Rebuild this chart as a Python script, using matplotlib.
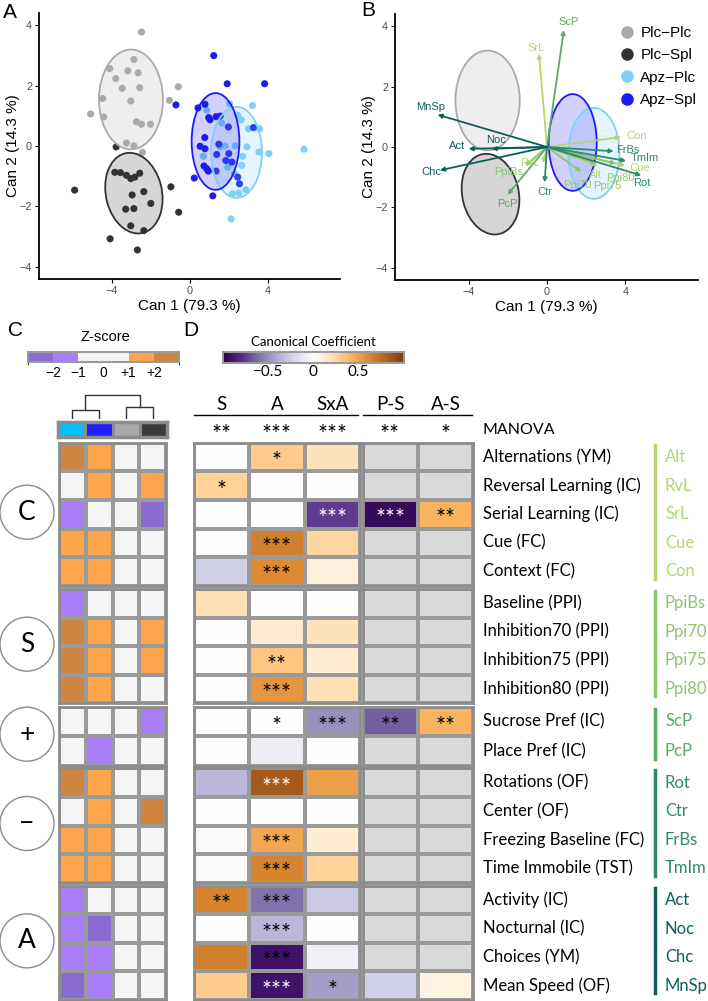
import numpy as np
import matplotlib.pyplot as plt
import matplotlib.transforms as mtransforms
from matplotlib.patches import Ellipse
from matplotlib.lines import Line2D
from matplotlib.colors import ListedColormap, BoundaryNorm, LinearSegmentedColormap, Normalize
from matplotlib.cm import ScalarMappable

### DATA ###
group_names = ['Plc−Plc', 'Plc−Spl', 'Apz−Plc', 'Apz−Spl']
group_colors = ['#AAAAAA', '#333333', '#7FD0F8', '#1C1CF0']

# canonical scores (panel A)
plcplc_x = [-2.49, -2.88, -4.12, -3.19, -2.66, -3.81, -3.48, -2.58, -0.60, -4.48,
            -3.04, -1.06, -5.10, -4.43, -2.75, -2.49, -2.03, -3.26, -2.88, -2.44]
plcplc_y = [3.77, 2.86, 2.56, 2.49, 2.42, 2.23, 1.91, 1.93, 1.96, 1.57,
            1.49, 1.51, 1.06, 0.96, 0.80, 0.72, 0.72, 0.10, 0.01, -0.21]
plcspl_x = [-3.79, -3.86, -3.57, -3.26, -3.04, -2.83, -2.58, -2.97, -2.37, -3.30,
            -2.88, -2.01, -0.98, -0.58, -5.92, -3.04, -2.37, -4.10, -2.70]
plcspl_y = [-0.03, -0.87, -0.88, -0.97, -1.08, -1.03, -0.90, -1.62, -1.51, -2.09,
            -2.07, -1.90, -1.35, -2.19, -1.46, -2.64, -2.80, -3.07, -3.44]
apzplc_x = [0.86, 2.03, 3.21, 2.45, 2.63, 3.00, 3.57, 1.63, 2.32, 1.80, 3.54, 4.05,
            5.85, 2.71, 2.66, 1.94, 0.69, 2.28, 2.18, 2.51, 2.87, 2.11, 2.92, 1.55]
apzplc_y = [1.18, 1.40, 1.34, 1.02, 0.87, 0.57, 0.57, 0.76, 0.00, 0.00, -0.20, -0.25,
            -0.11, -0.34, -0.64, -0.70, -0.34, -0.92, -1.58, -1.56, -1.45, -2.41, -0.03, -0.03]
apzspl_x = [1.22, 1.91, 3.83, -0.72, 0.41, 0.77, 0.96, 1.03, 1.34, 1.55, 1.97, 3.26, 0.76, 0.52,
            0.77, 1.48, 1.37, 1.99, 0.72, 0.94, 1.34, 1.84, 2.15, 2.45, 2.54, 0.22, 1.17, 0.86]
apzspl_y = [2.99, 2.06, 2.06, 1.36, 1.26, 1.38, 0.94, 0.87, 0.97, 0.99, 0.63, 0.61, 0.28, -0.01,
            -0.09, 0.06, -0.28, -0.25, -0.66, -0.83, -0.83, -0.48, -0.53, -1.03, -1.25, -1.06, -1.65, -0.75]

# 68% ellipses: centre, width, height, angle
ell_cx = [-3.03, -2.88, 2.39, 1.31]
ell_cy = [1.54, -1.56, -0.21, 0.15]
ell_w = [3.28, 3.05, 2.61, 2.45]
ell_h = [3.30, 2.55, 3.01, 3.20]
ell_ang = [0, -28, 0, 0]

# variables (rows of D, arrows of B)
var_abbr = ['Alt', 'RvL', 'SrL', 'Cue', 'Con', 'PpiBs', 'Ppi70', 'Ppi75', 'Ppi80',
            'ScP', 'PcP', 'Rot', 'Ctr', 'FrBs', 'TmIm', 'Act', 'Noc', 'Chc', 'MnSp']
var_names = ['Alternations (YM)', 'Reversal Learning (IC)', 'Serial Learning (IC)', 'Cue (FC)',
             'Context (FC)', 'Baseline (PPI)', 'Inhibition70 (PPI)', 'Inhibition75 (PPI)',
             'Inhibition80 (PPI)', 'Sucrose Pref (IC)', 'Place Pref (IC)', 'Rotations (OF)',
             'Center (OF)', 'Freezing Baseline (FC)', 'Time Immobile (TST)', 'Activity (IC)',
             'Nocturnal (IC)', 'Choices (YM)', 'Mean Speed (OF)']
block_labels = ['C', 'S', '+', '−', 'A']
block_sizes = [5, 4, 2, 4, 4]
block_colors = ['#B3D66E', '#8EC56F', '#5DA866', '#2D8A68', '#0E5F5A']

# structure coefficients (panel B)
coef_x = [2.58, -0.21, -0.41, 3.98, 3.78, -1.12, 1.75, 2.54, 3.52, 0.86,
          -2.01, 4.81, -0.12, 3.40, 4.03, -4.00, -2.83, -5.46, -5.58]
coef_y = [-0.61, -0.53, 3.09, -0.62, 0.33, -0.62, -0.82, -0.55, -0.55, 3.87,
          -1.58, -0.94, -1.17, -0.14, -0.46, -0.06, -0.06, -0.77, 1.07]
lab_x = [2.45, -0.86, -0.57, 4.72, 4.55, -1.97, 1.55, 3.09, 3.74, 1.12,
         -2.01, 4.81, -0.12, 4.12, 5.00, -4.60, -2.58, -5.92, -5.92]
lab_y = [-0.94, -0.53, 3.28, -0.68, 0.35, -0.83, -1.25, -1.30, -1.03, 4.13,
         -1.88, -1.19, -1.49, -0.09, -0.36, 0.02, 0.24, -0.83, 1.33]

# z-scores (panel C), columns: Apz-Plc, Apz-Spl, Plc-Plc, Plc-Spl
zcol_colors = ['#00BFFF', '#1F1FFF', '#AAAAAA', '#3A3A3A']
zscore = np.array([
    [2.3, 1.5, 0.0, 0.0],
    [0.0, 1.5, 0.0, 1.5],
    [-1.5, 0.0, 0.0, -2.3],
    [1.5, 1.5, 0.0, 0.0],
    [1.5, 1.5, 0.0, 0.0],
    [-1.5, 0.0, 0.0, 0.0],
    [2.3, 1.5, 0.0, 1.5],
    [2.3, 1.5, 0.0, 1.5],
    [2.3, 1.5, 0.0, 0.0],
    [0.0, 0.0, 0.0, -1.5],
    [0.0, -1.5, 0.0, 0.0],
    [2.3, 1.5, 0.0, 0.0],
    [0.0, 1.5, 0.0, 2.3],
    [1.5, 1.5, 0.0, 0.0],
    [1.5, 1.5, 0.0, 0.0],
    [-1.5, 0.0, 0.0, 0.0],
    [-1.5, -2.3, 0.0, 0.0],
    [-1.5, -1.5, 0.0, 0.0],
    [-2.3, -1.5, 0.0, 0.0]])

# canonical coefficients (panel D), columns S, A, SxA, P-S, A-S
coef_cols = ['S', 'A', 'SxA', 'P-S', 'A-S']
manova_stars = ['**', '***', '***', '**', '*']
nan = np.nan
canon = np.array([
    [0.00, 0.30, 0.18, nan, nan],
    [0.27, 0.00, 0.00, nan, nan],
    [0.00, 0.00, -0.75, -0.95, 0.42],
    [0.00, 0.65, 0.25, nan, nan],
    [-0.25, 0.60, 0.10, nan, nan],
    [0.20, 0.00, 0.00, nan, nan],
    [0.00, 0.13, 0.18, nan, nan],
    [0.00, 0.33, 0.12, nan, nan],
    [0.00, 0.55, 0.20, nan, nan],
    [0.00, 0.00, -0.50, -0.65, 0.42],
    [0.00, -0.10, 0.00, nan, nan],
    [-0.35, 0.85, 0.50, nan, nan],
    [0.00, 0.00, 0.00, nan, nan],
    [-0.03, 0.47, 0.12, nan, nan],
    [-0.03, 0.63, 0.27, nan, nan],
    [0.63, -0.60, -0.27, nan, nan],
    [0.00, -0.35, 0.00, nan, nan],
    [0.65, -0.90, -0.08, nan, nan],
    [0.30, -0.90, -0.45, -0.25, 0.08]])
signif = [
    ['', '*', '', '', ''],
    ['*', '', '', '', ''],
    ['', '', '***', '***', '**'],
    ['', '***', '', '', ''],
    ['', '***', '', '', ''],
    ['', '', '', '', ''],
    ['', '', '', '', ''],
    ['', '**', '', '', ''],
    ['', '***', '', '', ''],
    ['', '*', '***', '**', '**'],
    ['', '', '', '', ''],
    ['', '***', '', '', ''],
    ['', '', '', '', ''],
    ['', '***', '', '', ''],
    ['', '***', '', '', ''],
    ['**', '***', '', '', ''],
    ['', '***', '', '', ''],
    ['', '***', '', '', ''],
    ['', '***', '*', '', '']]
white_stars = [(2, 2), (2, 3), (11, 1), (18, 1)]

### FIGURE ###
W, H = 708, 1001
fig = plt.figure(figsize=(W / 100, H / 100), dpi=100)
FA = 'Liberation Sans'
FD = 'Lato'


def add_ax(x0, y0, x1, y1):
    # axes from pixel box (top-left origin)
    return fig.add_axes([x0 / W, 1 - y1 / H, (x1 - x0) / W, (y1 - y0) / H])


def style_scatter_axes(ax):
    ax.set_xlim(-7.75, 7.7)
    ax.set_ylim(-4.4, 4.4)
    ax.set_xticks([-4, 0, 4])
    ax.set_yticks([-4, -2, 0, 2, 4])
    for s in ['top', 'right']:
        ax.spines[s].set_visible(False)
    for s in ['left', 'bottom']:
        ax.spines[s].set_linewidth(1.3)
    ax.tick_params(labelsize=7.8, labelcolor='#4D4D4D', length=3, width=0.8, pad=2)
    for t in ax.get_xticklabels() + ax.get_yticklabels():
        t.set_fontfamily(FA)
    ax.set_xlabel('Can 1 (79.3 %)', fontsize=11, family=FA, labelpad=2)
    ax.set_ylabel('Can 2 (14.3 %)', fontsize=11, family=FA, labelpad=0)


def draw_ellipses(ax):
    for i in range(4):
        ax.add_patch(Ellipse((ell_cx[i], ell_cy[i]), ell_w[i], ell_h[i], angle=ell_ang[i],
                             facecolor=group_colors[i], alpha=0.2, edgecolor='none', zorder=3))
        ax.add_patch(Ellipse((ell_cx[i], ell_cy[i]), ell_w[i], ell_h[i], angle=ell_ang[i],
                             facecolor='none', edgecolor=group_colors[i], lw=1.3, zorder=4))


### Panel A
axA = add_ax(39, 13, 340, 279)
pts = [(plcplc_x, plcplc_y), (plcspl_x, plcspl_y), (apzplc_x, apzplc_y), (apzspl_x, apzspl_y)]
for i, (px, py) in enumerate(pts):
    axA.scatter(px, py, s=26, color=group_colors[i], edgecolors='none', zorder=2)
draw_ellipses(axA)
style_scatter_axes(axA)

### Panel B
axB = add_ax(395, 14, 698, 280)
draw_ellipses(axB)
var_group = np.repeat(np.arange(5), block_sizes)
for k in range(len(var_abbr)):
    c = block_colors[var_group[k]]
    axB.annotate('', xy=(coef_x[k], coef_y[k]), xytext=(0, 0),
                 arrowprops=dict(arrowstyle='-|>', color=c, lw=1.3, mutation_scale=6,
                                 shrinkA=0, shrinkB=0), zorder=5)
    axB.text(lab_x[k], lab_y[k], var_abbr[k], color=c, fontsize=8, family=FA,
             ha='center', va='center', zorder=6)
style_scatter_axes(axB)
handles = [Line2D([], [], ls='none', marker='o', ms=8, color=c) for c in group_colors]
axB.legend(handles, group_names, loc='upper left', bbox_to_anchor=(619 / W, 1 - 26 / H),
           bbox_transform=fig.transFigure, frameon=False, prop={'family': FA, 'size': 11},
           handlelength=1.0, handletextpad=0.4, labelspacing=0.55, borderpad=0, borderaxespad=0)

### panel letters
for lx, ly, L in [(3, 12, 'A'), (361, 11, 'B'), (8, 331, 'C'), (183, 331, 'D')]:
    fig.text(lx / W, 1 - ly / H, L, fontsize=15, family=FA, va='center', ha='left')

### Panel C: colour key
z_cmap = ListedColormap(['#8A6BD1', '#A77DFA', '#F5F5F5', '#FFA64D', '#CD853F'])
z_norm = BoundaryNorm([-3, -2, -1, 1, 2, 3], 5)
fig.text(105 / W, 1 - 337 / H, 'Z-score', fontsize=10.5, family=FA, ha='center', va='center')
caxC = add_ax(28, 352, 179, 362)
cbC = fig.colorbar(ScalarMappable(norm=z_norm, cmap=z_cmap), cax=caxC, orientation='horizontal',
                   spacing='proportional', ticks=[-2, -1, 0, 1, 2])
cbC.set_ticklabels(['−2', '−1', '0', '+1', '+2'])
cbC.outline.set_edgecolor('#9A9A9A')
cbC.outline.set_linewidth(1.5)
caxC.tick_params(length=0, labelsize=10, pad=3)
for t in caxC.get_xticklabels():
    t.set_fontfamily(FA)

# dendrogram over the four groups
axDen = add_ax(58, 392, 167, 419)
den_h = [0.35, 0.43, 0.90]
axDen.plot([0.5, 0.5, 1.5, 1.5], [0, den_h[0], den_h[0], 0], color='#333333', lw=1)
axDen.plot([2.5, 2.5, 3.5, 3.5], [0, den_h[1], den_h[1], 0], color='#333333', lw=1)
axDen.plot([1.0, 1.0, 3.0, 3.0], [den_h[0], den_h[2], den_h[2], den_h[1]], color='#333333', lw=1)
axDen.set_xlim(0, 4)
axDen.set_ylim(0, 1)
axDen.axis('off')

axHead = add_ax(58, 422, 167, 437)
axHead.pcolormesh([[0, 1, 2, 3]], cmap=ListedColormap(zcol_colors), vmin=-0.5, vmax=3.5,
                  edgecolors='#8C8C8C', linewidth=2)
axHead.set_xticks([])
axHead.set_yticks([])
for s in axHead.spines.values():
    s.set_color('#8C8C8C')
    s.set_linewidth(2.5)

### Panel D: colour key
d_cmap = LinearSegmentedColormap.from_list('puor', ['#2d004b', '#542788', '#8073ac', '#b2abd2', '#d8daeb',
                                                    '#ffffff', '#fee0b6', '#fdb863', '#dd8a33',
                                                    '#b2651f', '#7f3b08'])
d_cmap.set_bad('#D9D9D9')
d_norm = Normalize(-1, 1)
fig.text(313 / W, 1 - 342 / H, 'Canonical Coefficient', fontsize=9.5, family=FD, ha='center', va='center')
caxD = add_ax(222.7, 352.3, 404, 362.7)
cbD = fig.colorbar(ScalarMappable(norm=d_norm, cmap=d_cmap), cax=caxD, orientation='horizontal',
                   ticks=[-0.5, 0, 0.5])
cbD.set_ticklabels(['−0.5', '0', '0.5'])
cbD.outline.set_edgecolor('#9A9A9A')
cbD.outline.set_linewidth(1.5)
caxD.tick_params(length=0, labelsize=11, pad=2)
for t in caxD.get_xticklabels():
    t.set_fontfamily(FD)

# column header, underlines and MANOVA stars
col_x = [221.7, 277, 332.3, 390, 445.7]
for j in range(5):
    fig.text(col_x[j] / W, 1 - 405 / H, coef_cols[j], fontsize=13.5, family=FD, ha='center', va='center')
    fig.text(col_x[j] / W, 1 - 434 / H, manova_stars[j], fontsize=17, family=FD, ha='center', va='center')
fig.add_artist(Line2D([194 / W, 358 / W], [1 - 415 / H] * 2, color='black', lw=1))
fig.add_artist(Line2D([362.7 / W, 471.7 / W], [1 - 415 / H] * 2, color='black', lw=1))
fig.text(482 / W, 1 - 430 / H, 'MANOVA', fontsize=11.5, family=FD, ha='left', va='center')

### heatmap blocks
block_top = [442.7, 589, 706.7, 768.3, 885.7]
block_bot = [585.7, 703.3, 765.7, 882.7, 1000]
white_set = set(white_stars)
r0 = 0
for b in range(5):
    n = block_sizes[b]
    top, bot = block_top[b], block_bot[b]
    rows = slice(r0, r0 + n)

    # panel C block
    axc = add_ax(59.3, top, 166, bot)
    axc.pcolormesh(zscore[rows], cmap=z_cmap, norm=z_norm, edgecolors='#9A9A9A', linewidth=1.5)

    # panel D blocks (effects, contrasts)
    axl = add_ax(194, top, 360, bot)
    axl.pcolormesh(np.ma.masked_invalid(canon[rows, :3]), cmap=d_cmap, norm=d_norm,
                   edgecolors='#9A9A9A', linewidth=1.5)
    axr = add_ax(362.7, top, 473.3, bot)
    axr.pcolormesh(np.ma.masked_invalid(canon[rows, 3:]), cmap=d_cmap, norm=d_norm,
                   edgecolors='#9A9A9A', linewidth=1.5)

    for ax in (axc, axl, axr):
        ax.set_ylim(n, 0)
        ax.set_xticks([])
        ax.set_yticks([])
        for s in ax.spines.values():
            s.set_color('#8C8C8C')
            s.set_linewidth(2)

    for i in range(n):
        r = r0 + i
        for j in range(5):
            if signif[r][j]:
                ax = axl if j < 3 else axr
                jj = j if j < 3 else j - 3
                col = 'white' if (r, j) in white_set else 'black'
                ax.text(jj + 0.5, i + 0.66, signif[r][j], ha='center', va='center',
                        fontsize=17, family=FD, color=col)
        trans = mtransforms.blended_transform_factory(fig.transFigure, axr.transData)
        axr.text(483 / W, i + 0.5, var_names[r], transform=trans, fontsize=12, family=FD,
                 ha='left', va='center')
        axr.text(665 / W, i + 0.5, var_abbr[r], transform=trans, fontsize=12, family=FD,
                 ha='left', va='center', color=block_colors[b])

    # group bar and circled group label
    fig.add_artist(Line2D([655 / W] * 2, [1 - (top + 2) / H, 1 - (bot - 7) / H],
                          color=block_colors[b], lw=2.5))
    fig.text(27 / W, 1 - ((top + bot) / 2 - 2) / H, block_labels[b], fontsize=19, family=FD,
             ha='center', va='center',
             bbox=dict(boxstyle='circle,pad=0.55', fc='white', ec='#8C8C8C', lw=1))
    r0 += n

fig.savefig('out.png', dpi=100)
